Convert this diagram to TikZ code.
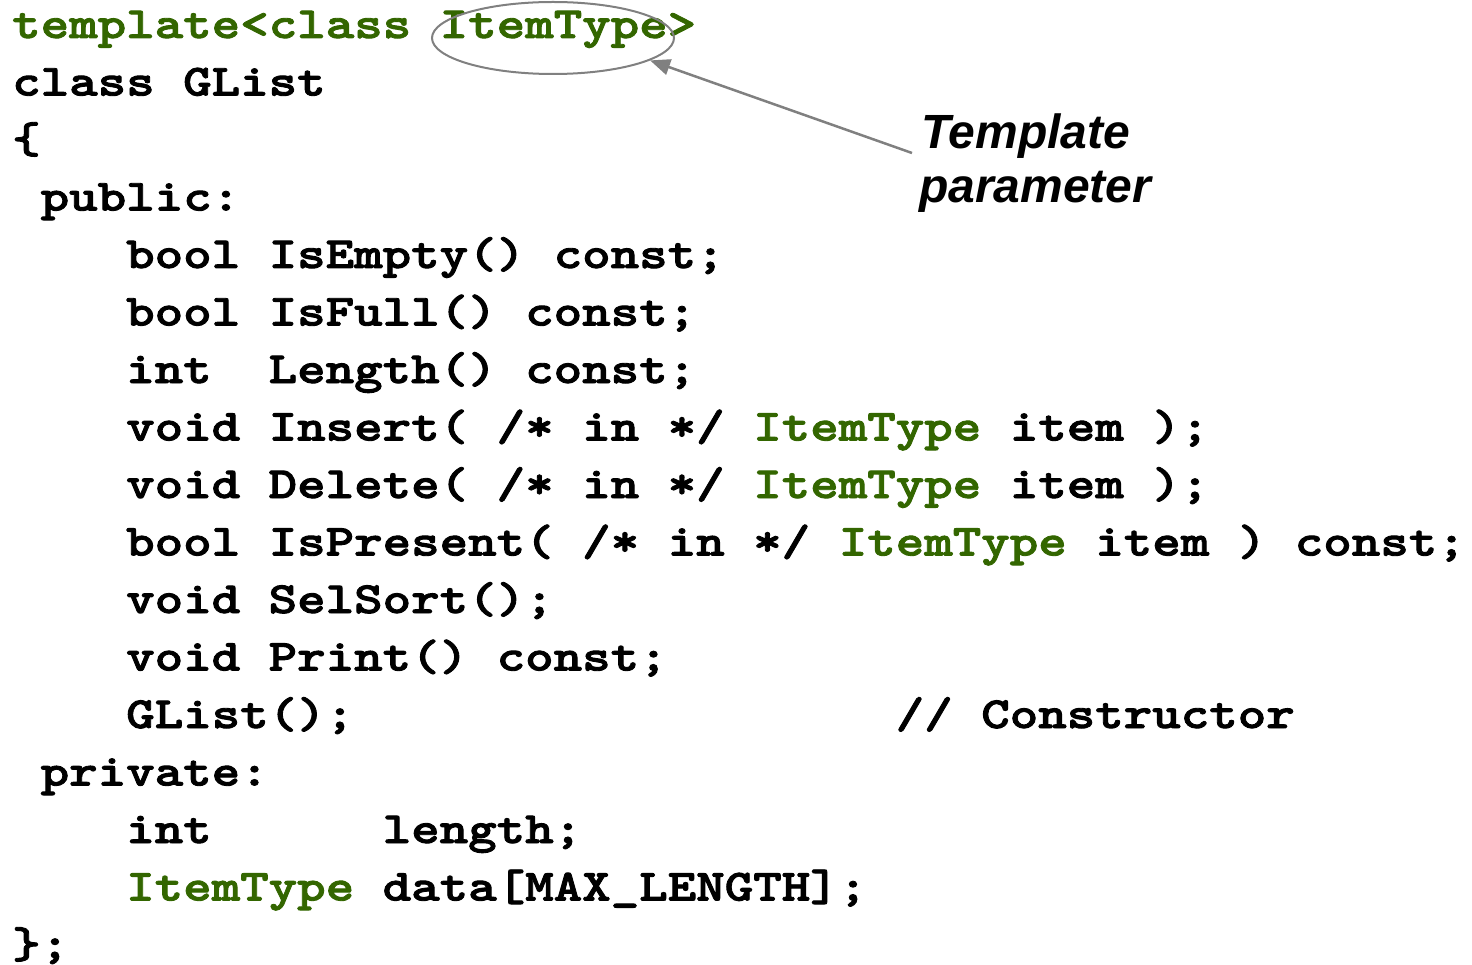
\documentclass[tikz,border=0pt]{standalone}
\usepackage{fontspec}
\usetikzlibrary{shapes.geometric,arrows.meta}
\newfontfamily\codefont{lmmonolt10-bold}[Extension=.otf,FakeStretch=1.22,FakeBold=2]
\newfontfamily\notefont{Liberation Sans}
\definecolor{tplgreen}{HTML}{336600}
\definecolor{notegray}{HTML}{808080}
\newcommand{\tg}[1]{\textcolor{tplgreen}{#1}}
\frenchspacing
\begin{document}
\begin{tikzpicture}[x=1pt,y=-1pt,
  codeline/.style={anchor=base west,inner sep=0pt,
    font=\codefont\fontsize{44.5}{57.6}\selectfont},
  notetext/.style={anchor=base west,inner sep=0pt,
    font=\notefont\bfseries\itshape\fontsize{48}{56}\selectfont},
  marker/.style={draw=notegray,line width=2pt,ellipse,inner sep=0pt},
  pointer/.style={draw=notegray,line width=2.5pt,-{Triangle[length=20pt,width=16pt]}}]
\useasboundingbox (0,0) rectangle (1472,965);
% class declaration, one node per line
\def\cw{28.5}
\def\lh{57.5}
\node[codeline] (l1)  at (12,38) {\tg{template<class ItemType>}};
\node[codeline] (l2)  at (12,38+\lh) {class GList};
\node[codeline] (l3)  at (12,38+2*\lh) {\{};
\node[codeline] (l4)  at (12+\cw,38+3*\lh) {public:};
\node[codeline] (l5)  at (12+4*\cw,38+4*\lh) {bool IsEmpty() const;};
\node[codeline] (l6)  at (12+4*\cw,38+5*\lh) {bool IsFull() const;};
\node[codeline] (l7)  at (12+4*\cw,38+6*\lh) {int~~Length() const;};
\node[codeline] (l8)  at (12+4*\cw,38+7*\lh) {void Insert( /* in */ \tg{ItemType} item );};
\node[codeline] (l9)  at (12+4*\cw,38+8*\lh) {void Delete( /* in */ \tg{ItemType} item );};
\node[codeline] (l10) at (12+4*\cw,38+9*\lh) {bool IsPresent( /* in */ \tg{ItemType} item ) const;};
\node[codeline] (l11) at (12+4*\cw,38+10*\lh) {void SelSort();};
\node[codeline] (l12) at (12+4*\cw,38+11*\lh) {void Print() const;};
\node[codeline] (l13) at (12+4*\cw,38+12*\lh) {GList();~~~~~~~~~~~~~~~~~~~// Constructor};
\node[codeline] (l14) at (12+\cw,38+13*\lh) {private:};
\node[codeline] (l15) at (12+4*\cw,38+14*\lh) {int~~~~~~length;};
\node[codeline] (l16) at (12+4*\cw,38+15*\lh) {\tg{ItemType} data[MAX\_LENGTH];};
\node[codeline] (l17) at (12,38+16*\lh) {\};};
% annotation
\node[marker,minimum width=242pt,minimum height=72pt] (param) at (553,38) {};
\node[notetext] (tp1) at (921,149) {Template};
\node[notetext] (tp2) at (919,203) {parameter};
\draw[pointer] ([xshift=-9pt,yshift=-4pt]tp1.base west) -- (param.-13);
\end{tikzpicture}
\end{document}
